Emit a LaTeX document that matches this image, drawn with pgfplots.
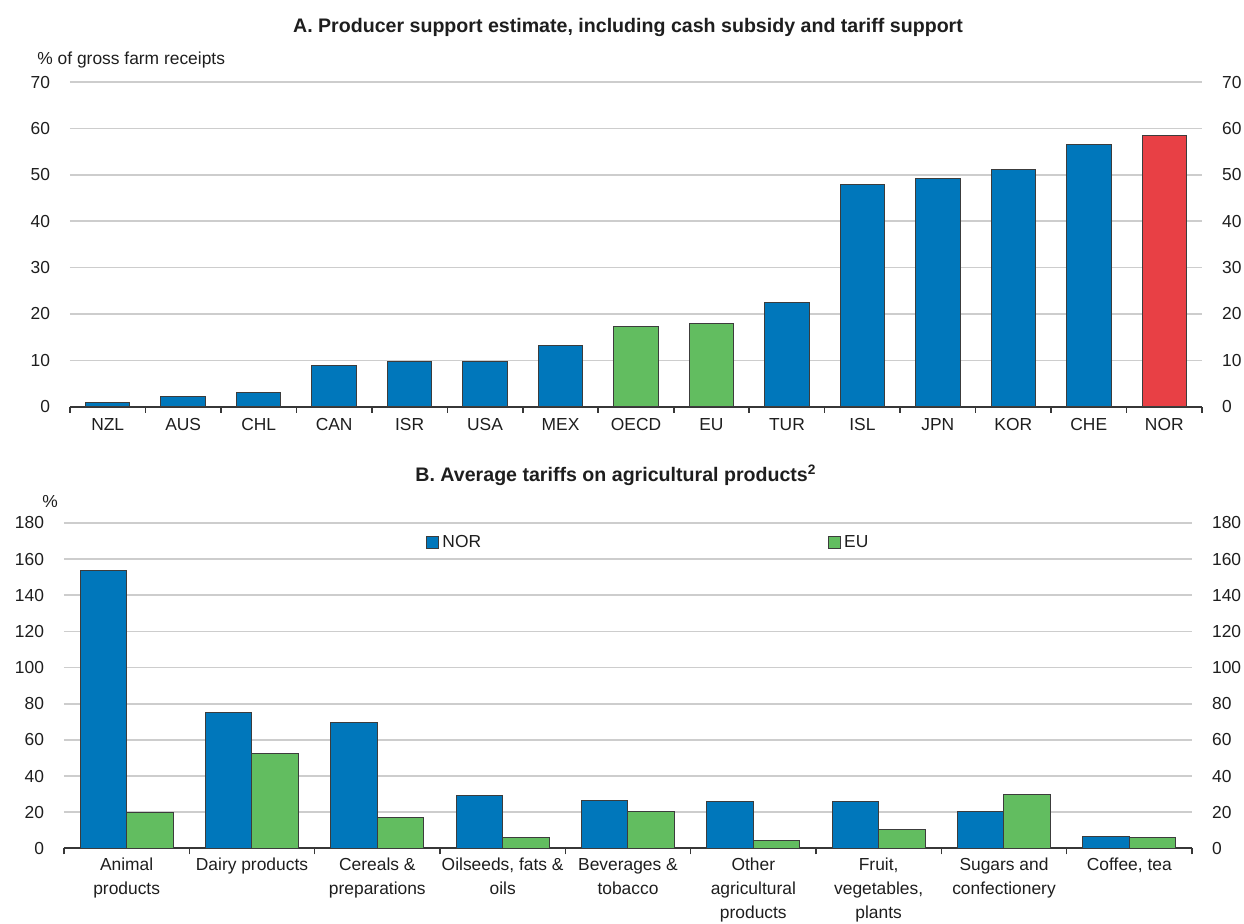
\documentclass[border=0pt]{standalone}
\usepackage{fontspec}
\setmainfont{Liberation Sans}
\usepackage{pgfplots}
\pgfplotsset{compat=1.18}

\definecolor{oblue}{RGB}{0,119,187}
\definecolor{ogreen}{RGB}{98,189,96}
\definecolor{ored}{RGB}{232,64,69}
\definecolor{ogrid}{RGB}{205,205,205}
\definecolor{oaxis}{RGB}{55,55,55}
\definecolor{otext}{RGB}{30,30,30}
\definecolor{oedge}{RGB}{60,60,60}

\newcommand{\lblfont}{\fontsize{8.7}{12.5}\selectfont}
\newcommand{\catfont}{\fontsize{8.7}{11.9}\selectfont}
\newcommand{\ttlfont}{\bfseries\fontsize{9.8}{12}\selectfont}

\pgfplotsset{
  panel/.style={
    scale only axis,
    axis x line*=bottom, axis y line*=left,
    y axis line style={draw=none},
    x axis line style={draw=oaxis, line width=1pt},
    ymajorgrids, grid style={draw=ogrid, line width=0.8pt},
    ytick style={draw=none},
    major x tick style={draw=none},
    minor x tick style={draw=oaxis, line width=0.8pt},
    minor tick length=3pt, major tick length=0pt, tick align=inside,
    tick label style={font=\lblfont, text=otext},
    yticklabel style={xshift=-6.5pt},
    xticklabel style={yshift=-2.5pt},
    /pgf/number format/assume math mode=true,
    enlargelimits=false, clip=false,
  },
  rightlabels/.style={
    scale only axis,
    axis x line=none, axis y line*=right,
    y axis line style={draw=none},
    ytick style={draw=none},
    tick label style={font=\lblfont, text=otext},
    yticklabel style={xshift=6.5pt},
    /pgf/number format/assume math mode=true,
    enlargelimits=false,
  },
  barbox/.style={draw=oedge, line width=0.5pt},
}

% Panel A: producer support estimate, % of gross farm receipts
\pgfplotstableread{
x val
0 0.8
1 2.2
2 3.0
3 8.9
4 9.7
5 9.7
6 13.2
9 22.5
10 47.8
11 49.2
12 51.2
13 56.6
}\pseblue
\pgfplotstableread{
x val
7 17.2
8 18.0
}\psegreen
\pgfplotstableread{
x val
14 58.4
}\psered

% Panel B: average tariffs, %
\pgfplotstableread{
x nor eu
0 153.5 19.9
1 74.9 52.6
2 69.5 16.9
3 29.1 5.9
4 26.2 20.6
5 26.0 4.4
6 25.8 10.5
7 20.6 29.7
8 6.4 6.1
}\tariffs

\begin{document}
\begin{tikzpicture}
\useasboundingbox (0,0) rectangle (622pt,461.5pt);

% Panel A
\node[font=\ttlfont, text=otext] at (314pt,448pt)
  {A. Producer support estimate, including cash subsidy and tariff support};
\node[anchor=west, font=\lblfont, text=otext, inner sep=0pt] at (18.5pt,431.5pt)
  {\% of gross farm receipts};

\begin{axis}[panel,
  at={(35pt,258.15pt)}, anchor=south west,
  width=566pt, height=162.35pt,
  xmin=-0.5, xmax=14.5, ymin=0, ymax=70,
  ytick={0,10,...,70},
  xtick={0,...,14},
  xticklabels={NZL,AUS,CHL,CAN,ISR,USA,MEX,OECD,EU,TUR,ISL,JPN,KOR,CHE,NOR},
  minor xtick={-0.5,0.5,...,14.5},
  ybar, bar width=0.59,
]
\addplot[barbox, fill=oblue, bar shift=0pt] table[x=x, y=val] {\pseblue};
\addplot[barbox, fill=ogreen, bar shift=0pt] table[x=x, y=val] {\psegreen};
\addplot[barbox, fill=ored, bar shift=0pt] table[x=x, y=val] {\psered};
\end{axis}
\begin{axis}[rightlabels,
  at={(35pt,258.15pt)}, anchor=south west,
  width=566pt, height=162.35pt,
  xmin=-0.5, xmax=14.5, ymin=0, ymax=70,
  ytick={0,10,...,70},
]
\end{axis}

% Panel B
\node[font=\ttlfont, text=otext] at (308pt,224pt)
  {B. Average tariffs on agricultural products\textsuperscript{2}};
\node[anchor=west, font=\lblfont, text=otext, inner sep=0pt] at (21pt,210.5pt) {\%};

\begin{axis}[panel,
  at={(32pt,37.35pt)}, anchor=south west,
  width=564pt, height=162.65pt,
  xmin=-0.5, xmax=8.5, ymin=0, ymax=180,
  ytick={0,20,...,180},
  xtick={0,...,8},
  xticklabels={{Animal\\products},{Dairy products},{Cereals \&\\preparations},
    {Oilseeds, fats \&\\oils},{Beverages \&\\tobacco},{Other\\agricultural\\products},
    {Fruit,\\vegetables,\\plants},{Sugars and\\confectionery},{Coffee, tea}},
  xticklabel style={align=center, font=\catfont, yshift=1pt},
  minor xtick={-0.5,0.5,...,8.5},
  ybar=0pt, bar width=0.37,
  legend columns=2,
  legend style={draw=none, fill=none, at={(0.321,0.939)}, anchor=west,
    font=\lblfont, text=otext, inner sep=0pt,
    nodes={inner sep=1.5pt},
    /tikz/every even column/.append style={column sep=172pt}},
  legend image code/.code={\draw[#1] (0pt,-3pt) rectangle (6pt,3pt);},
]
\addplot[barbox, fill=oblue] table[x=x, y=nor] {\tariffs};
\addlegendentry{NOR}
\addplot[barbox, fill=ogreen] table[x=x, y=eu] {\tariffs};
\addlegendentry{EU}
\end{axis}
\begin{axis}[rightlabels,
  at={(32pt,37.35pt)}, anchor=south west,
  width=564pt, height=162.65pt,
  xmin=-0.5, xmax=8.5, ymin=0, ymax=180,
  ytick={0,20,...,180},
]
\end{axis}
\end{tikzpicture}
\end{document}
